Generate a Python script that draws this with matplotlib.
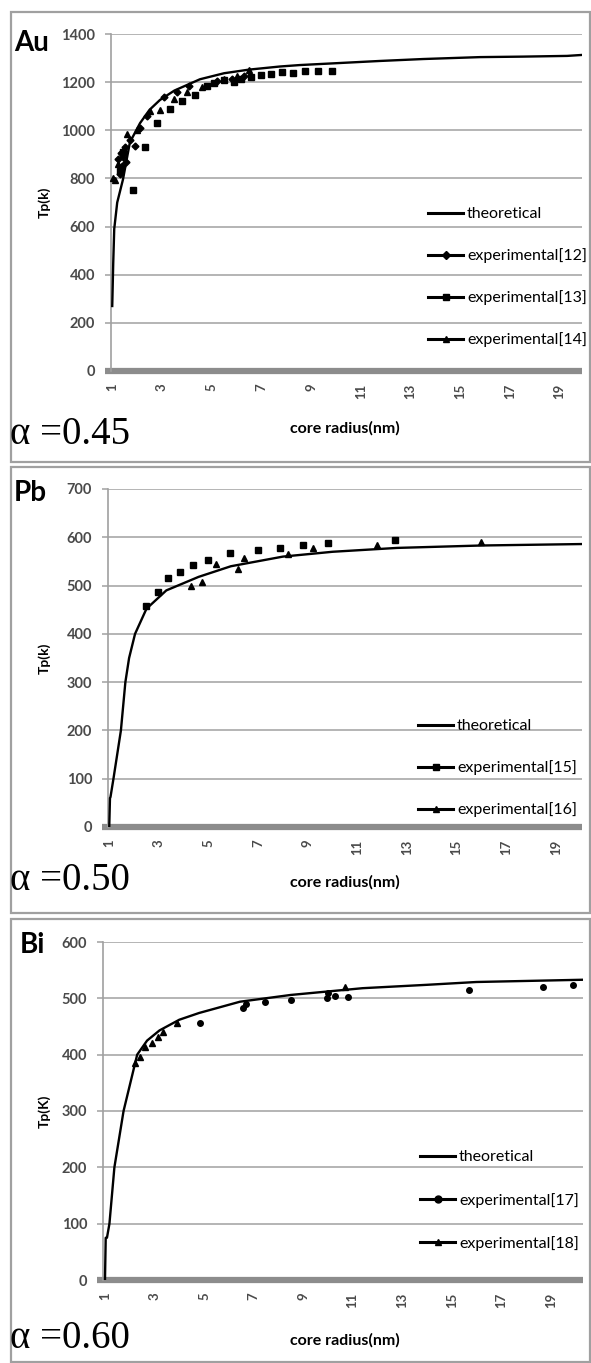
import matplotlib
matplotlib.use('Agg')
import matplotlib.pyplot as plt
from matplotlib.lines import Line2D
from matplotlib.patches import Rectangle

plt.rcParams['font.family'] = ['Lato', 'DejaVu Sans']

# ---- Au (alpha = 0.45) ----
au_theo_r = [1.0, 1.04, 1.08, 1.2, 1.43, 1.71, 2.12, 2.5, 2.92, 3.5, 4.53, 5.5, 6.5, 7.75, 8.55, 11.77, 13.5, 15.8, 17.5, 19.3, 19.9]
au_theo_t = [270, 450, 590, 700, 795, 950, 1030, 1085, 1126, 1165, 1212, 1237, 1252, 1265, 1271, 1288, 1296, 1304, 1306, 1309, 1313]

au12_r = [1.25, 1.3, 1.35, 1.4, 1.45, 1.5, 1.55, 1.7, 1.9, 2.1, 2.4, 3.1, 3.6, 4.1, 5.2, 5.8, 6.3]
au12_t = [880, 820, 905, 850, 890, 930, 870, 960, 935, 1010, 1060, 1140, 1160, 1185, 1205, 1215, 1225]
au13_r = [1.3, 1.45, 1.84, 2.32, 2.8, 3.32, 3.8, 4.33, 4.8, 5.1, 5.5, 5.9, 6.2, 6.6, 7.0, 7.4, 7.83, 8.27, 8.75, 9.28, 9.84]
au13_t = [830, 910, 752, 930, 1030, 1088, 1120, 1147, 1185, 1195, 1210, 1200, 1215, 1220, 1230, 1235, 1242, 1238, 1246, 1246, 1246]
au14_r = [1.05, 1.11, 1.25, 1.45, 1.6, 2.0, 2.5, 2.92, 3.5, 4.0, 4.6, 5.5, 6.0, 6.5]
au14_t = [800, 793, 860, 920, 985, 1000, 1080, 1084, 1130, 1160, 1180, 1215, 1225, 1250]

# ---- Pb (alpha = 0.50) ----
pb_theo_r = [1.0, 1.03, 1.05, 1.17, 1.47, 1.65, 1.8, 2.04, 2.5, 3.3, 4.6, 5.9, 8.0, 10.0, 12.6, 16.0, 20.05]
pb_theo_t = [0, 60, 62, 100, 200, 300, 350, 400, 452, 490, 518, 540, 560, 570, 578, 583, 586]

pb15_r = [2.5, 2.97, 3.37, 3.85, 4.38, 4.98, 5.87, 7.0, 7.9, 8.8, 9.8, 12.5]
pb15_t = [457, 487, 515, 528, 542, 553, 567, 573, 577, 584, 588, 594]
pb16_r = [4.3, 4.75, 5.3, 6.2, 6.45, 8.2, 9.2, 11.8, 16.0]
pb16_t = [500, 508, 545, 535, 558, 565, 577, 583, 590]

# ---- Bi (alpha = 0.60) ----
bi_theo_r = [1.0, 1.03, 1.08, 1.18, 1.38, 1.75, 2.3, 2.7, 3.2, 4.0, 4.8, 6.45, 8.5, 11.4, 14.0, 16.0, 20.3]
bi_theo_t = [0, 75, 75, 100, 200, 300, 400, 425, 443, 462, 474, 494, 506, 518, 524, 529, 533]

bi17_r = [4.84, 6.57, 6.7, 7.46, 8.5, 9.96, 10.0, 10.3, 10.8, 15.7, 18.7, 19.9]
bi17_t = [456, 483, 490, 494, 497, 500, 510, 504, 503, 515, 520, 524]
bi18_r = [2.21, 2.41, 2.61, 2.9, 3.14, 3.34, 3.9, 10.7]
bi18_t = [385, 396, 414, 421, 432, 441, 456, 520]

x_ticks = [1, 3, 5, 7, 9, 11, 13, 15, 17, 19]

W, H = 591, 1363
fig = plt.figure(figsize=(W / 100, H / 100), dpi=100)

GRID = '#a8a8a8'
TICK_COL = '#4a4a4a'


def fx(x):
    return x / W


def fy(y):
    return 1 - y / H


def panel(box, rect, xlim, ylim, ystep, elem, elem_xy, ylab, alpha_txt, alpha_y,
          xlab_y, theo, series, leg_top, leg_left, leg_space):
    # frame around the panel
    fig.patches.append(Rectangle((fx(11), fy(box[1])), fx(579), (box[1] - box[0]) / H,
                                 transform=fig.transFigure, fill=False,
                                 edgecolor='#a0a0a0', lw=1.6))
    l, t, r, b = rect
    ax = fig.add_axes([fx(l), fy(b), (r - l) / W, (b - t) / H])
    ax.set_xlim(*xlim)
    ax.set_ylim(*ylim)
    ax.set_yticks(range(0, ylim[1] + 1, ystep))
    ax.set_xticks(x_ticks)
    ax.set_xticklabels([str(v) for v in x_ticks], rotation=90)
    for lbl in ax.get_xticklabels() + ax.get_yticklabels():
        lbl.set_fontweight('bold')
    for s in ['top', 'right', 'bottom']:
        ax.spines[s].set_visible(False)
    ax.spines['left'].set_color('#a0a0a0')
    ax.spines['left'].set_linewidth(1.2)
    ax.yaxis.grid(True, color=GRID, lw=1.2)
    ax.set_axisbelow(True)
    ax.tick_params(axis='y', length=4.5, width=1.2, color=GRID, pad=7,
                   labelsize=10.5, labelcolor=TICK_COL)
    ax.tick_params(axis='x', length=0, pad=9, labelsize=9.5, labelcolor=TICK_COL)
    # thick grey category axis at zero
    ax.plot([-0.013, 1.0], [0, 0], transform=ax.get_yaxis_transform(),
            color='#8c8c8c', lw=4.5, solid_capstyle='butt', clip_on=False, zorder=1.5)

    ax.plot(theo[0], theo[1], color='black', lw=1.7, zorder=3)
    handles = [Line2D([], [], color='black', lw=2.2)]
    labels = ['theoretical']
    for xs, ys, mk, ms, lab in series:
        ax.plot(xs, ys, ls='none', marker=mk, ms=ms, color='black', zorder=4, clip_on=False)
        handles.append(Line2D([], [], color='black', lw=2.2, marker=mk, ms=ms + 1))
        labels.append(lab)
    fig.legend(handles, labels, loc='upper left',
               bbox_to_anchor=(fx(leg_left), fy(leg_top)), bbox_transform=fig.transFigure,
               frameon=False, fontsize=11.5, borderpad=0, borderaxespad=0,
               handlelength=2.2, handletextpad=0.25, labelspacing=leg_space)

    fig.text(fx(elem_xy[0]), fy(elem_xy[1]), elem, fontsize=20, weight='bold',
             ha='left', va='center')
    fig.text(fx(44), fy((t + b) / 2), ylab, fontsize=10, weight='bold', rotation=90,
             ha='center', va='center')
    fig.text(fx(345), fy(xlab_y), 'core radius(nm)', fontsize=11.5, weight='bold',
             ha='center', va='center')
    fig.text(fx(10), fy(alpha_y), alpha_txt, fontsize=28, family='Liberation Serif',
             ha='left', va='center')
    return ax


panel((12, 462), (111, 34, 582, 371), (0.95, 19.9), (0, 1400), 200, 'Au', (14, 43),
      'Tp(k)', '\u03b1 =0.45', 435, 428, (au_theo_r, au_theo_t),
      [(au12_r, au12_t, 'D', 3.5, 'experimental[12]'),
       (au13_r, au13_t, 's', 4, 'experimental[13]'),
       (au14_r, au14_t, '^', 4, 'experimental[14]')],
      207, 428, 1.7)

panel((467, 913), (108, 489, 582, 827), (0.95, 20.05), (0, 700), 100, 'Pb', (14, 493),
      'Tp(k)', '\u03b1 =0.50', 880, 882, (pb_theo_r, pb_theo_t),
      [(pb15_r, pb15_t, 's', 4, 'experimental[15]'),
       (pb16_r, pb16_t, '^', 4, 'experimental[16]')],
      719, 418, 1.7)

panel((919, 1362), (103, 942, 583, 1280), (0.92, 20.3), (0, 600), 100, 'Bi', (20, 945),
      'Tp(K)', '\u03b1 =0.60', 1338, 1340, (bi_theo_r, bi_theo_t),
      [(bi17_r, bi17_t, 'o', 4, 'experimental[17]'),
       (bi18_r, bi18_t, '^', 4, 'experimental[18]')],
      1150, 420, 1.78)

fig.savefig('out.png', dpi=100)
